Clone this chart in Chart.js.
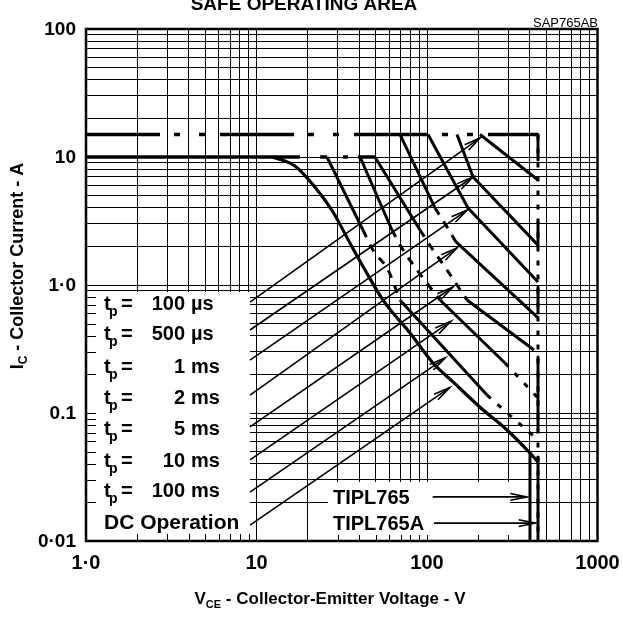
<!DOCTYPE html>
<html><head><meta charset="utf-8">
<script src="https://cdn.jsdelivr.net/npm/chart.js@4/dist/chart.umd.min.js"></script>
<style>html,body{margin:0;padding:0;background:#fff}canvas{display:block}</style>
</head><body>
<canvas id="c" width="623" height="617"></canvas>
<script>
// ---------- data ----------
const xGrid = [1,2,3,4,5,6,7,8,9,10,20,30,40,50,60,70,80,90,100,200,300,400,500,600,700,800,900,1000];
const yGrid = [0.01,0.02,0.03,0.04,0.05,0.06,0.07,0.08,0.09,0.1,0.2,0.3,0.4,0.5,0.6,0.7,0.8,0.9,1,2,3,4,5,6,7,8,9,10,20,30,40,50,60,70,80,90,100];
const xTickValues = [1,10,100,1000];
const xTickLabels = ['1·0','10','100','1000'];
const yTickValues = [100,10,1,0.1,0.01];
const yTickLabels = ['100','10','1·0','0.1','0·01'];
const legendValues = ['100','500','1','2','5','10','100'];
const legendUnits = ['µs','µs','ms','ms','ms','ms','ms'];
const dcLabel = 'DC Operation';
const deviceLabels = ['TIPL765','TIPL765A'];

// current limits
const limit15A = [[1,15],[447.7,15]];
const limit10A = [[1,10],[18,10]];
const limit10Adash = [[23.6,10],[49.5,10]];
// VCEO limits: 450 V (solid pieces over a dotted line) and 400 V
const vceo450Dotted = [[447.7,15],[447.7,0.01]];
const vceo450Solid = [[[447.7,15],[447.7,9.48]],[[447.7,3.11],[447.7,2.05]],[[447.7,0.965],[447.7,0.604]],[[447.7,0.274],[447.7,0.0737]],[[447.7,0.0453],[447.7,0.01]]];
const vceo400 = [[401.8,0.0487],[401.8,0.01]];
// pulse curves
const tp100us = [[204.6,15],[447.7,6.61]];
const tp500us = [[150,15],[186.2,6.98],[447.7,2.05]];
const tp1ms = [[101.4,15],[174,4.0],[447.7,1.055]];
const tp2msSteep = [[69.4,15],[111.4,4.0]];
const tp2msMid = [[111.4,4.0],[131,2.84],[148,2.17]];
const tp2msLow = [[148,2.17],[418.4,0.604],[447.7,0.552]];
const tp5msSteep = [[49.5,10],[91,2.69]];
const tp5msMid = [[91,2.69],[108.4,1.88],[131,1.31],[171.6,0.763]];
const tp5msLow = [[171.6,0.763],[401.8,0.328]];
const tp5msExt = [[401.8,0.328],[447.7,0.294]];
const tp10msSteep = [[40.5,10],[62.3,2.69]];
const tp10msMid = [[62.3,2.69],[72.3,1.88],[87.4,1.31],[119.2,0.763]];
const tp10msLow = [[119.2,0.763],[286.7,0.246]];
const tp10msExt = [[286.7,0.246],[447.7,0.131]];
const tp100msSteep = [[25.9,10],[42.1,2.69]];
const tp100msMid = [[42.1,2.69],[48.2,1.88],[59.1,1.31],[69.4,0.763]];
const tp100msLow = [[69.4,0.763],[224.9,0.138]];
const tp100msExt = [[224.9,0.138],[447.7,0.0615]];
const dcCurve = [[12.5,10],[16.8,8.51],[22.0,5.83],[28.1,3.72],[35.3,2.13],[43.3,1.31],[55.2,0.763],[79.5,0.422],[108.4,0.246],[142.1,0.175],[204.6,0.111],[294.6,0.0737],[401.8,0.0487],[447.7,0.0414]];
// arrows from legend to curves
const arrowStarts = [[9.16,0.736],[9.16,0.445],[9.16,0.259],[9.16,0.138],[9.16,0.0778],[9.16,0.043],[9.16,0.0241],[9.16,0.0133]];
const arrowEnds = [[205,14.1],[186,6.98],[172,3.85],[150,1.95],[142,0.965],[138,0.52],[128,0.27],[136,0.158]];
const devArrowStarts = [[108,0.0221],[110,0.0138]];
const devArrowEnds = [[386,0.0221],[432,0.0138]];

// ---------- build datasets ----------
const pts = a => a.map(p => ({x:p[0], y:p[1]}));
const datasets = [];
function line(data, w, dash, extra){
  datasets.push(Object.assign({data:pts(data), showLine:true, borderColor:'#000', borderWidth:w,
    borderDash:dash||[], pointRadius:0, fill:false, tension:0, borderCapStyle:'butt', borderJoinStyle:'round'}, extra||{}));
}
const DASH = [8,8], DOT = [5,9];
const mono = {cubicInterpolationMode:'monotone'};
line(limit15A, 3.5, [74,14,6,19,6,15]);
line(limit10A, 3.5);
line(limit10Adash, 3.5, [7,16,5,10,40]);
line(vceo450Dotted, 3, DOT);
vceo450Solid.forEach(s => line(s, 3));
line(vceo400, 3);
[tp100us,tp500us,tp1ms,tp2msSteep,tp2msLow,tp5msSteep,tp5msLow,tp10msSteep,tp10msLow,tp100msSteep,tp100msLow].forEach(c => line(c, 3));
[tp2msMid,tp5msMid,tp10msMid,tp100msMid].forEach(c => line(c, 3, DASH, mono));
[tp5msExt,tp10msExt,tp100msExt].forEach(c => line(c, 3, DOT));
line(dcCurve, 3.2, [], mono);
arrowStarts.forEach((s,i) => line([s, arrowEnds[i]], 1.6, [], {arrow:true}));
devArrowStarts.forEach((s,i) => line([s, devArrowEnds[i]], 1.6, [], {arrow:true}));

const FONT = '"Liberation Sans", Arial, sans-serif';
const LEGEND_RIGHT = 250, LEGEND_TOP = 292;
const DEV_BOX = {l:328, t:482, r:510};

const overlay = {
  id:'overlay',
  beforeDatasetsDraw(chart){
    const ctx = chart.ctx, a = chart.chartArea, xs = chart.scales.x, ys = chart.scales.y;
    ctx.save();
    ctx.fillStyle = '#fff';
    ctx.fillRect(a.left, LEGEND_TOP, LEGEND_RIGHT - a.left, a.bottom - LEGEND_TOP);
    ctx.fillRect(DEV_BOX.l, DEV_BOX.t, DEV_BOX.r - DEV_BOX.l, a.bottom - DEV_BOX.t);
    ctx.strokeStyle = '#000'; ctx.lineWidth = 1;
    ctx.beginPath();
    yGrid.forEach(v => { const y = Math.round(ys.getPixelForValue(v)) + 0.5;
      if (y > LEGEND_TOP && y < a.bottom - 1) { ctx.moveTo(a.left, y); ctx.lineTo(a.left + 10, y); } });
    xGrid.forEach(v => { const x = Math.round(xs.getPixelForValue(v)) + 0.5;
      if (x > a.left + 1 && x < LEGEND_RIGHT) { ctx.moveTo(x, a.bottom); ctx.lineTo(x, a.bottom - 7); }
      if (x > DEV_BOX.l && x < DEV_BOX.r) { ctx.moveTo(x, a.bottom); ctx.lineTo(x, a.bottom - 6); } });
    ctx.stroke();
    ctx.restore();
  },
  afterDatasetsDraw(chart){
    const ctx = chart.ctx, a = chart.chartArea, xs = chart.scales.x, ys = chart.scales.y;
    ctx.save();
    // arrowheads
    chart.data.datasets.forEach(ds => {
      if (!ds.arrow) return;
      const n = ds.data.length;
      const x1 = xs.getPixelForValue(ds.data[n-2].x), y1 = ys.getPixelForValue(ds.data[n-2].y);
      const x2 = xs.getPixelForValue(ds.data[n-1].x), y2 = ys.getPixelForValue(ds.data[n-1].y);
      const ang = Math.atan2(y2 - y1, x2 - x1), L = 17, s = 0.2;
      ctx.beginPath();
      ctx.moveTo(x2 - L*Math.cos(ang - s), y2 - L*Math.sin(ang - s));
      ctx.lineTo(x2, y2);
      ctx.lineTo(x2 - L*Math.cos(ang + s), y2 - L*Math.sin(ang + s));
      ctx.lineWidth = 1.6; ctx.strokeStyle = '#000'; ctx.stroke();
    });
    // frame
    ctx.lineWidth = 2.5; ctx.strokeStyle = '#000';
    ctx.strokeRect(a.left, a.top, a.right - a.left, a.bottom - a.top);
    // tick labels
    ctx.fillStyle = '#000';
    ctx.font = 'bold 19px ' + FONT;
    ctx.textBaseline = 'middle';
    ctx.textAlign = 'right';
    yTickValues.forEach((v,i) => ctx.fillText(yTickLabels[i], a.left - 10, ys.getPixelForValue(v) + 1));
    ctx.font = 'bold 20px ' + FONT;
    ctx.textAlign = 'center';
    xTickValues.forEach((v,i) => ctx.fillText(xTickLabels[i], xs.getPixelForValue(v), a.bottom + 22));
    // axis titles
    ctx.font = 'bold 17px ' + FONT;
    const xt1 = 'V', xt2 = 'CE', xt3 = ' - Collector-Emitter Voltage - V';
    ctx.textAlign = 'left'; ctx.textBaseline = 'alphabetic';
    let w1 = ctx.measureText(xt1).width, w3 = ctx.measureText(xt3).width;
    ctx.font = 'bold 11px ' + FONT; let w2 = ctx.measureText(xt2).width;
    let x0 = 330 - (w1 + w2 + w3)/2, by = 604;
    ctx.font = 'bold 17px ' + FONT; ctx.fillText(xt1, x0, by);
    ctx.font = 'bold 11px ' + FONT; ctx.fillText(xt2, x0 + w1, by + 4);
    ctx.font = 'bold 17px ' + FONT; ctx.fillText(xt3, x0 + w1 + w2, by);
    // y title
    ctx.save();
    ctx.translate(23, 266); ctx.rotate(-Math.PI/2);
    const yt1 = 'I', yt2 = 'C', yt3 = ' - Collector Current - A';
    ctx.font = 'bold 18px ' + FONT; w1 = ctx.measureText(yt1).width; w3 = ctx.measureText(yt3).width;
    ctx.font = 'bold 12px ' + FONT; w2 = ctx.measureText(yt2).width;
    x0 = -(w1 + w2 + w3)/2;
    ctx.font = 'bold 18px ' + FONT; ctx.fillText(yt1, x0, 0);
    ctx.font = 'bold 12px ' + FONT; ctx.fillText(yt2, x0 + w1, 4);
    ctx.font = 'bold 18px ' + FONT; ctx.fillText(yt3, x0 + w1 + w2, 0);
    ctx.restore();
    // title
    ctx.font = 'bold 19px ' + FONT; ctx.textAlign = 'center';
    ctx.fillText('SAFE OPERATING AREA', 304, 10);
    ctx.font = '13px ' + FONT; ctx.textAlign = 'right';
    ctx.fillText('SAP765AB', 598, 27);
    // legend
    const rows = [303,333,366,397,428,460,490];
    rows.forEach((y,i) => {
      ctx.textAlign = 'left';
      ctx.font = 'bold 20px ' + FONT; ctx.fillText('t', 104, y + 7);
      ctx.font = 'bold 14px ' + FONT; ctx.fillText('p', 109, y + 13);
      ctx.font = 'bold 20px ' + FONT; ctx.fillText('=', 121, y + 7);
      ctx.textAlign = 'right'; ctx.fillText(legendValues[i], 185, y + 7);
      ctx.textAlign = 'left'; ctx.fillText(legendUnits[i], 191, y + 7);
    });
    ctx.font = 'bold 21px ' + FONT; ctx.textAlign = 'left';
    ctx.fillText(dcLabel, 104, 529);
    ctx.font = 'bold 20px ' + FONT;
    ctx.fillText(deviceLabels[0], 333, 504);
    ctx.fillText(deviceLabels[1], 333, 530);
    ctx.restore();
  }
};

new Chart(document.getElementById('c'), {
  type:'scatter',
  data:{datasets},
  options:{
    responsive:false, animation:false, devicePixelRatio:1,
    layout:{padding:{left:86, right:25.5, top:29, bottom:76}},
    plugins:{legend:{display:false}, tooltip:{enabled:false}, title:{display:false}},
    scales:{
      x:{type:'logarithmic', min:1, max:1000,
         afterBuildTicks: s => { s.ticks = xGrid.map(v => ({value:v})); },
         ticks:{display:false}, border:{display:false},
         grid:{color:'#000', lineWidth:1, drawTicks:false}},
      y:{type:'logarithmic', min:0.01, max:100,
         afterBuildTicks: s => { s.ticks = yGrid.map(v => ({value:v})); },
         ticks:{display:false}, border:{display:false},
         grid:{color:'#000', lineWidth:1, drawTicks:false}}
    }
  },
  plugins:[overlay]
});
</script>
</body></html>
